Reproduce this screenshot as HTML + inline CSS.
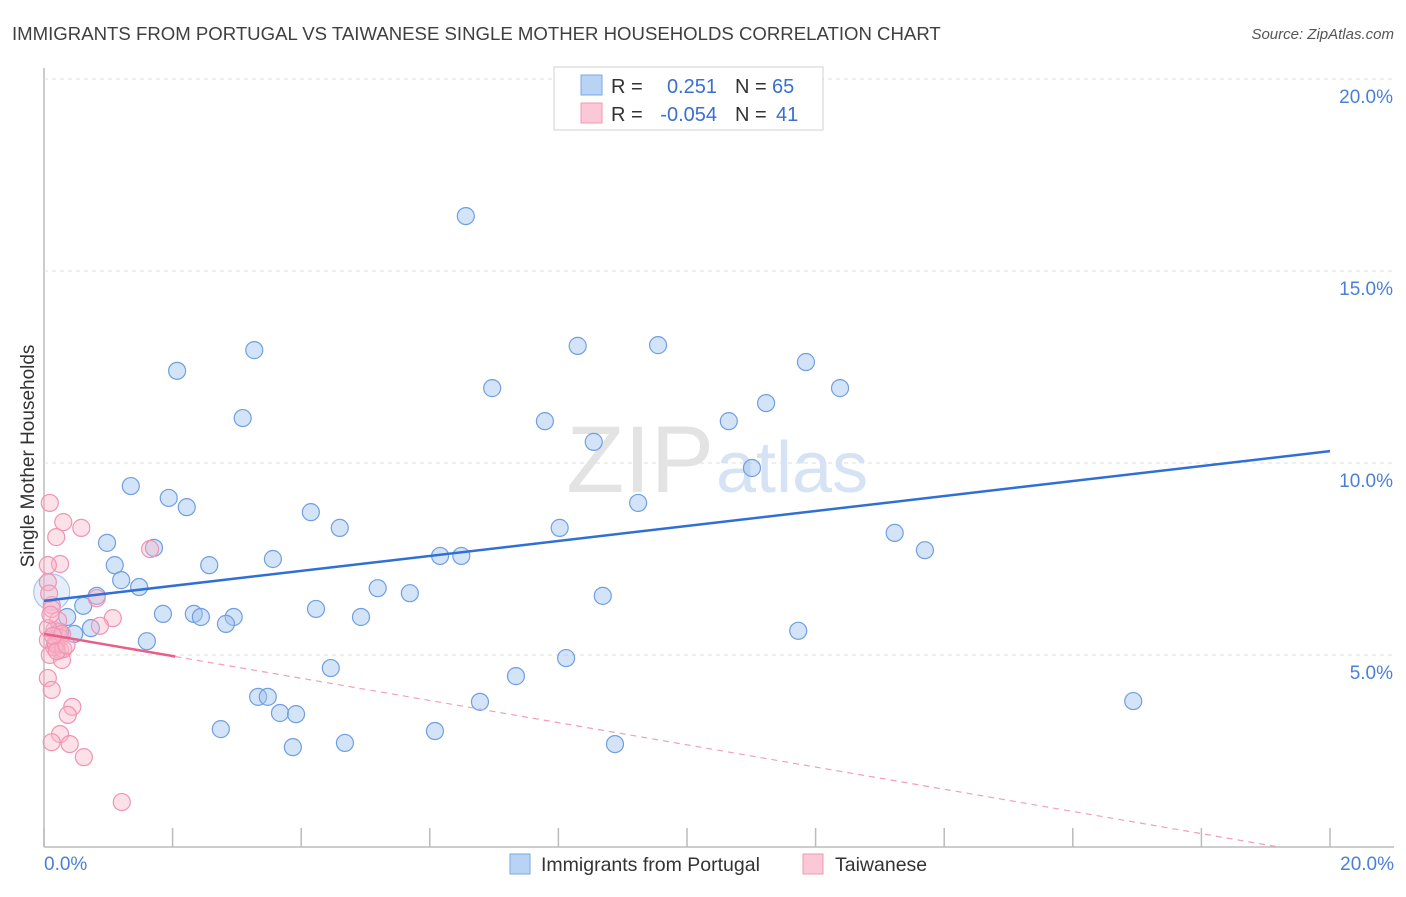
<!DOCTYPE html>
<html><head><meta charset="utf-8">
<style>
body{margin:0;background:#fff;font-family:"Liberation Sans",sans-serif;}
svg text{font-family:"Liberation Sans",sans-serif;}
</style></head>
<body>
<svg id="chart" width="1406" height="892">
<text x="12" y="40" font-size="18.6" fill="#3f3f3f">IMMIGRANTS FROM PORTUGAL VS TAIWANESE SINGLE MOTHER HOUSEHOLDS CORRELATION CHART</text>
<text x="1394" y="39" font-size="15" fill="#555" font-style="italic" text-anchor="end">Source: ZipAtlas.com</text>
<text x="34" y="456" font-size="19" fill="#333" text-anchor="middle" transform="rotate(-90 34 456)">Single Mother Households</text>
<g id="grid"></g>
<text x="714" y="492" font-size="95" fill="#e3e3e3" font-family="Liberation Serif" text-anchor="end">ZIP</text>
<text x="716" y="492" font-size="72" fill="#d6e3f5">atlas</text>
<g id="pts"></g>
<g id="lines"></g>
<g>
<rect x="554" y="67" width="269" height="63" fill="#fff" stroke="#d0d0d0"/>
<rect x="581" y="75" width="21" height="20" fill="#b9d3f5" stroke="#7aa7e4"/>
<rect x="581" y="103" width="21" height="20" fill="#fbc8d8" stroke="#ef9ab5"/>
<text x="611" y="93" font-size="20" fill="#333">R =</text>
<text x="717" y="93" font-size="20" fill="#3a6fd0" text-anchor="end">0.251</text>
<text x="735" y="93" font-size="20" fill="#333">N =</text>
<text x="772" y="93" font-size="20" fill="#3a6fd0">65</text>
<text x="611" y="121" font-size="20" fill="#333">R =</text>
<text x="717" y="121" font-size="20" fill="#3a6fd0" text-anchor="end">-0.054</text>
<text x="735" y="121" font-size="20" fill="#333">N =</text>
<text x="776" y="121" font-size="20" fill="#3a6fd0">41</text>
</g>
<g>
<rect x="510" y="854" width="20" height="20" fill="#b9d3f5" stroke="#7aa7e4"/>
<text x="541" y="871" font-size="19.5" fill="#333">Immigrants from Portugal</text>
<rect x="803" y="854" width="20" height="20" fill="#fbc8d8" stroke="#ef9ab5"/>
<text x="835" y="871" font-size="19.5" fill="#333">Taiwanese</text>
</g>
</svg>
<script>
const xTicks=[0,2,4,6,8,10,12,14,16,18,20];
const yTicks=[5,10,15,20];
const yTickLabels=["5.0%","10.0%","15.0%","20.0%"];
const blueX=[6.56,3.27,8.30,9.55,11.85,2.07,6.97,12.38,11.23,3.09,7.79,10.65,8.55,11.01,1.35,1.94,2.22,9.24,4.15,4.60,8.02,13.23,13.70,0.98,1.71,6.16,6.49,3.56,1.10,2.57,1.20,1.48,5.19,5.69,8.69,0.82,0.61,4.23,0.36,1.85,2.33,2.44,2.95,2.83,4.93,0.73,0.47,1.60,11.73,8.12,4.46,7.34,3.33,3.48,6.78,16.94,3.67,3.92,2.75,6.08,4.68,3.87,8.88,0.12,0.25];
const blueY=[16.43,12.94,13.05,13.07,12.63,12.40,11.95,11.95,11.56,11.17,11.09,11.09,10.55,9.87,9.40,9.09,8.85,8.96,8.72,8.31,8.31,8.18,7.73,7.92,7.79,7.58,7.58,7.50,7.34,7.34,6.95,6.77,6.74,6.61,6.54,6.54,6.28,6.20,5.99,6.07,6.07,5.99,5.99,5.81,5.99,5.70,5.55,5.36,5.63,4.92,4.66,4.45,3.91,3.91,3.78,3.80,3.49,3.46,3.07,3.02,2.71,2.60,2.68,6.64,5.60];
const pinkX=[0.09,0.30,0.58,0.19,1.65,0.25,0.06,1.07,0.87,0.12,0.16,0.22,0.06,0.19,0.25,0.09,0.28,0.82,0.06,0.12,0.44,0.37,0.25,0.12,0.40,0.62,1.21,0.06,0.12,0.22,0.25,0.16,0.06,0.28,0.10,0.18,0.30,0.14,0.20,0.08,0.35];
const pinkY=[8.96,8.46,8.31,8.07,7.76,7.37,7.34,5.96,5.76,6.30,5.65,5.60,5.39,5.26,5.13,5.00,4.87,6.48,4.40,4.09,3.65,3.44,2.94,2.73,2.68,2.34,1.17,6.90,6.20,5.90,5.45,5.20,5.70,5.55,6.05,5.30,5.15,5.50,5.10,6.60,5.25];
const blueTrend=[6.41,10.31];
const pinkTrend=[5.55,-0.289];
const NS="http://www.w3.org/2000/svg";
const sx=v=>44+v*64.3, sy=v=>847-v*38.4;
function mk(t,a,p){const e=document.createElementNS(NS,t);for(const k in a)e.setAttribute(k,a[k]);p.appendChild(e);return e;}
const grid=document.getElementById('grid');
const ax=mk('line',{x1:44,y1:68,x2:44,y2:847,stroke:'#bbb','stroke-width':1.5},grid);


const bx=mk('line',{x1:44,y1:847,x2:1394,y2:847,stroke:'#bbb','stroke-width':1.5},grid);


yTicks.forEach((v,i)=>{
 const g=mk('line',{x1:44,y1:sy(v),x2:1394,y2:sy(v),stroke:'#ddd','stroke-dasharray':'4,4'},grid);
 
 
 const t=mk('text',{x:1393,y:sy(v)+24,'font-size':19,fill:'#4a7fd8','text-anchor':'end'},grid);
 t.textContent=yTickLabels[i];
 
 
});
xTicks.forEach(v=>{
 const l=mk('line',{x1:sx(v),y1:828,x2:sx(v),y2:847,stroke:'#bbb','stroke-width':1.5},grid);
 
 
});
[[0,"0.0%","start",44],[20,"20.0%","end",1394]].forEach(a=>{
 const t=mk('text',{x:a[3],y:870,'font-size':19,fill:'#4a7fd8','text-anchor':a[2]},grid);
 t.textContent=a[1];
 
 
});
const pts=document.getElementById('pts');
blueX.forEach((x,i)=>{
 const big=i===63;
 const c=mk('circle',{cx:sx(x),cy:sy(blueY[i]),r:big?18:8.5,fill:big?'rgba(170,200,240,0.3)':'rgba(160,196,240,0.45)',stroke:big?'#a8c6ee':'#6f9fe0','stroke-width':1.2},pts);
 
 
});
pinkX.forEach((x,i)=>{
 const c=mk('circle',{cx:sx(x),cy:sy(pinkY[i]),r:8.5,fill:'rgba(250,180,200,0.4)',stroke:'#ef94b2','stroke-width':1.2},pts);
 
 
});
const lines=document.getElementById('lines');
const bl=mk('line',{x1:sx(0),y1:sy(blueTrend[0]),x2:sx(20),y2:sy(blueTrend[1]),stroke:'#2f6fd6','stroke-width':2.5},lines);


const pEnd=-pinkTrend[0]/pinkTrend[1];
const pd=mk('line',{x1:sx(2.04),y1:sy(pinkTrend[0]+pinkTrend[1]*2.04),x2:sx(pEnd),y2:sy(0),stroke:'#f0a0b8','stroke-width':1.2,'stroke-dasharray':'6,5'},lines);


const ps=mk('line',{x1:sx(0),y1:sy(pinkTrend[0]),x2:sx(2.04),y2:sy(pinkTrend[0]+pinkTrend[1]*2.04),stroke:'#e8608a','stroke-width':2.5},lines);


</script>
</body></html>
